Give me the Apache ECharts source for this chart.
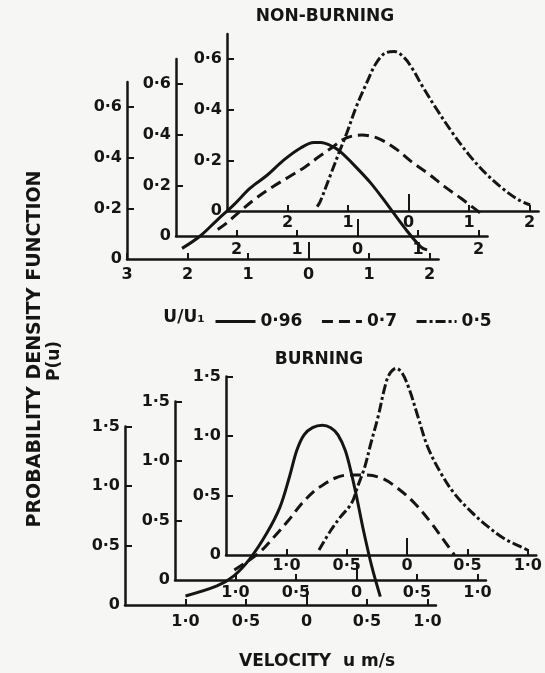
<!DOCTYPE html>
<html lang="en">
<head>
<meta charset="UTF-8">
<title>Probability density function of velocity</title>
<script src="https://cdn.jsdelivr.net/npm/echarts@6/dist/echarts.min.js"></script>
<style>
    html, body { margin: 0; padding: 0; background: #f6f6f4; }
    #main { width: 545px; height: 673px; }
</style>
</head>
<body>
<div id="main"></div>
<script>
// ---- data (velocity u, P(u)) ----
var topSolid = [[-2.09,0.042],[-1.79,0.091],[-1.51,0.154],[-1.24,0.213],[-0.96,0.281],[-0.68,0.332],
    [-0.41,0.391],[-0.13,0.439],[0.09,0.46],[0.2,0.46],[0.41,0.443],[0.53,0.423],[0.75,0.372],
    [1.03,0.3],[1.31,0.213],[1.58,0.126],[1.86,0.047],[1.96,0.036]];
var topDashed = [[-2.31,0.026],[-2.17,0.05],[-1.95,0.096],[-1.68,0.149],[-1.4,0.195],[-1.13,0.234],
    [-0.86,0.274],[-0.64,0.313],[-0.43,0.348],[-0.2,0.386],[0.07,0.399],[0.34,0.386],[0.62,0.347],
    [0.89,0.294],[1.16,0.248],[1.44,0.195],[1.71,0.149],[1.93,0.109],[2.07,0.083]];
var topDashDot = [[-1.51,0.017],[-1.46,0.037],[-1.3,0.136],[-1.13,0.242],[-1.02,0.308],[-0.86,0.414],
    [-0.69,0.507],[-0.53,0.586],[-0.37,0.626],[-0.23,0.63],[-0.07,0.606],[0.07,0.56],[0.23,0.493],
    [0.45,0.408],[0.73,0.308],[1.0,0.222],[1.27,0.15],[1.55,0.09],[1.82,0.044],[2.01,0.024]];

var botSolid = [[-1.0,0.076],[-0.74,0.16],[-0.6,0.245],[-0.47,0.385],[-0.33,0.6],[-0.22,0.82],
    [-0.14,1.08],[-0.08,1.3],[-0.02,1.43],[0.05,1.49],[0.13,1.51],[0.2,1.49],[0.26,1.43],
    [0.32,1.3],[0.37,1.11],[0.42,0.88],[0.47,0.63],[0.54,0.322],[0.61,0.07]];
var botDashed = [[-1.01,0.084],[-0.81,0.224],[-0.68,0.364],[-0.56,0.504],[-0.45,0.645],[-0.34,0.756],
    [-0.29,0.79],[-0.18,0.855],[-0.07,0.882],[0.07,0.882],[0.21,0.855],[0.34,0.771],[0.48,0.645],
    [0.62,0.476],[0.73,0.322],[0.81,0.21]];
var botDashDot = [[-0.73,0.042],[-0.63,0.21],[-0.55,0.322],[-0.46,0.434],[-0.41,0.574],[-0.35,0.742],
    [-0.3,0.939],[-0.24,1.162],[-0.19,1.387],[-0.15,1.513],[-0.09,1.569],[-0.04,1.527],[0.02,1.387],
    [0.09,1.162],[0.17,0.91],[0.28,0.687],[0.39,0.518],[0.53,0.364],[0.67,0.238],[0.8,0.14],
    [0.94,0.07],[1.01,0.036]];

var seriesNames = ['0·96', '0·7', '0·5'];
var topXTicksFront = [-3, -2, -1, 0, 1, 2];
var topXTicksBack = [-2, -1, 0, 1, 2];
var topYTicks = [0, 0.2, 0.4, 0.6];
var botXTicks = [-1, -0.5, 0, 0.5, 1];
var botYTicks = [0, 0.5, 1, 1.5];

var FONT = 'DejaVu Sans';
var INK = '#151515';
var DASH = [11, 6];
var DASHDOT = [10, 3, 3, 3];

function fmtTop(v) { return v === 0 ? '0' : String(Math.abs(v)).replace('.', '·'); }
function fmtBot(v) { return v === 0 ? '0' : Math.abs(v).toFixed(1).replace('.', '·'); }

var option = {
    backgroundColor: '#f6f6f4',
    animation: false,
    grid: [], xAxis: [], yAxis: [], series: [],
    legend: {
        data: seriesNames,
        left: 209, top: 308,
        itemWidth: 40, itemHeight: 14, itemGap: 18,
        itemStyle: { opacity: 0, borderWidth: 0 },
        lineStyle: { width: 3 },
        textStyle: { color: INK, fontFamily: FONT, fontWeight: 'bold', fontSize: 17 },
        selectedMode: false
    },
    graphic: []
};

var labelFont = { color: INK, fontFamily: FONT, fontWeight: 'bold', fontSize: 16 };

// one staggered axis frame
function addFrame(left, base, p, xLabels, xMargin) {
    var gi = option.grid.length;
    var w = (p.xMax - p.xMin) * p.xUnit;
    var h = p.yMax * p.yUnit;
    option.grid.push({ left: left, top: base - h, width: w, height: h });
    option.xAxis.push({
        gridIndex: gi, type: 'value', position: 'bottom', min: p.xMin, max: p.xMax,
        axisLine: { onZero: false, lineStyle: { color: INK, width: 2.5 } },
        axisTick: { inside: true, length: 6, customValues: xLabels, lineStyle: { color: INK, width: 2 } },
        axisLabel: Object.assign({ customValues: xLabels, formatter: p.fmt, margin: xMargin }, labelFont),
        splitLine: { show: false }
    });
    // tall tick at zero
    option.xAxis.push({
        gridIndex: gi, type: 'value', position: 'bottom', min: p.xMin, max: p.xMax,
        axisLine: { show: false },
        axisTick: { inside: true, length: 17, customValues: [0], lineStyle: { color: INK, width: 2 } },
        axisLabel: { show: false },
        splitLine: { show: false }
    });
    option.yAxis.push({
        gridIndex: gi, type: 'value', min: 0, max: p.yMax,
        axisLine: { show: true, onZero: false, lineStyle: { color: INK, width: 2.5 } },
        axisTick: { show: true, inside: true, length: 7, customValues: p.yTicks.slice(1), lineStyle: { color: INK, width: 2 } },
        axisLabel: Object.assign({ customValues: p.yTicks, formatter: p.fmt, margin: 5 }, labelFont),
        splitLine: { show: false }
    });
    return gi;
}

function addCurve(gi, name, data, dash) {
    option.series.push({
        type: 'line', name: name, data: data,
        xAxisIndex: gi * 2, yAxisIndex: gi,
        symbol: 'none', smooth: 0.35, clip: false,
        itemStyle: { color: INK },
        lineStyle: { color: INK, width: 3, type: dash }
    });
}

var topP = { xMin: -3, xMax: 2.15, xUnit: 60.5, yMax: 0.7, yUnit: 253, yTicks: topYTicks, fmt: fmtTop };
var botP = { xMin: -1.5, xMax: 1.07, xUnit: 121, yMax: 1.5, yUnit: 119, yTicks: botYTicks, fmt: fmtBot };

// NON-BURNING
var g0 = addFrame(127, 259, topP, topXTicksFront, 8);
var g1 = addFrame(176, 236, topP, topXTicksBack, 6);
var g2 = addFrame(227, 211, topP, topXTicksBack, 4);
addCurve(g0, seriesNames[0], topSolid, 'solid');
addCurve(g1, seriesNames[1], topDashed, DASH);
addCurve(g2, seriesNames[2], topDashDot, DASHDOT);

// BURNING
var g3 = addFrame(125, 605, botP, botXTicks, 9);
var g4 = addFrame(175, 580, botP, botXTicks, 5);
var g5 = addFrame(226, 555, botP, botXTicks, 3);
addCurve(g3, seriesNames[0], botSolid, 'solid');
addCurve(g4, seriesNames[1], botDashed, DASH);
addCurve(g5, seriesNames[2], botDashDot, DASHDOT);

function txt(s, x, y, size, rot) {
    return {
        type: 'text', x: x, y: y, rotation: rot || 0, z: 10,
        style: {
            text: s, fill: INK, font: 'bold ' + size + 'px "' + FONT + '"',
            textAlign: 'center', textVerticalAlign: 'middle', align: 'center', verticalAlign: 'middle'
        }
    };
}
option.graphic = [
    txt('NON-BURNING', 325, 17, 17),
    txt('BURNING', 319, 360, 17),
    txt('U/U₁', 184, 318, 17),
    txt('VELOCITY  u m/s', 317, 662, 17),
    txt('PROBABILITY DENSITY FUNCTION', 35, 349, 19, Math.PI / 2),
    txt('P(u)', 55, 361, 17, Math.PI / 2)
];

var myChart = echarts.init(document.getElementById('main'));
myChart.setOption(option);
</script>
</body>
</html>
